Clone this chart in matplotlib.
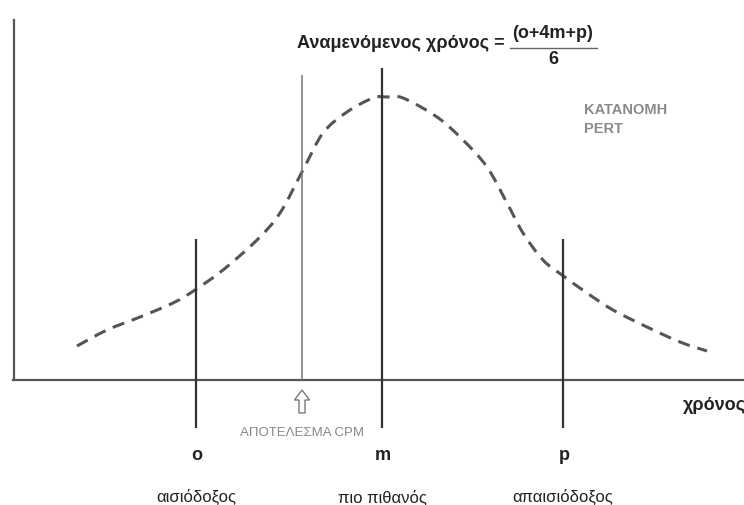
import matplotlib
matplotlib.use("Agg")
import matplotlib.pyplot as plt
from matplotlib.patches import FancyArrow, PathPatch
from matplotlib.path import Path

# PERT curve (time, density)
curve_time = [77, 107, 140, 173, 195, 223, 257, 280, 303, 323, 347, 373, 387,
              403, 437, 463, 487, 507, 523, 543, 562, 587, 613, 647, 680, 707]
curve_density = [34, 50, 63, 77, 90, 110, 140, 167, 210, 247, 268, 282, 283,
                 282, 263, 240, 213, 177, 147, 120, 105, 87, 70, 53, 38, 29]

estimate_names = ["o", "m", "p"]
estimate_times = [196, 382, 563]
estimate_tops = [141, 312, 141]
estimate_labels = ["αισιόδοξος", "πιο πιθανός", "απαισιόδοξος"]

cpm_time = 302
cpm_top = 305


def smooth_path(xs, ys):
    # Catmull-Rom through the read points, drawn as cubic Bezier segments
    pts = list(zip(xs, ys))
    verts = [pts[0]]
    codes = [Path.MOVETO]
    for i in range(len(pts) - 1):
        p0 = pts[i - 1] if i > 0 else pts[i]
        p1 = pts[i]
        p2 = pts[i + 1]
        p3 = pts[i + 2] if i + 2 < len(pts) else pts[i + 1]
        c1 = (p1[0] + (p2[0] - p0[0]) / 6, p1[1] + (p2[1] - p0[1]) / 6)
        c2 = (p2[0] - (p3[0] - p1[0]) / 6, p2[1] - (p3[1] - p1[1]) / 6)
        verts += [c1, c2, p2]
        codes += [Path.CURVE4] * 3
    return Path(verts, codes)


plt.rcParams["font.family"] = ["Liberation Sans", "DejaVu Sans"]

fig = plt.figure(figsize=(7.44, 5.05), dpi=100)
ax = fig.add_axes([0, 0, 1, 1])
ax.set_xlim(0, 744)
ax.set_ylim(-125, 380)
ax.axis("off")

# axes of the sketch
ax.axhline(0, xmin=13 / 744, xmax=1, color="#555555", lw=1.6)
ax.axvline(14, ymin=125 / 505, ymax=485 / 505, color="#555555", lw=1.6)

# distribution
ax.add_patch(PathPatch(smooth_path(curve_time, curve_density), fill=False,
                       edgecolor="#555555", lw=2.2, linestyle=(0, (4, 2.6)),
                       capstyle="butt"))

# o, m, p markers
ax.vlines(estimate_times, -48, estimate_tops, color="#333333", lw=1.6)
for t, name, lab in zip(estimate_times, estimate_names, estimate_labels):
    ax.text(t + 1, -75, name, ha="center", va="center", fontsize=13,
            fontweight="bold", color="#222222")
    ax.text(t, -117, lab, ha="center", va="center", fontsize=12, color="#222222")

# CPM result
ax.vlines([cpm_time], 0, cpm_top, color="#777777", lw=1.1)
ax.add_patch(FancyArrow(cpm_time, -33, 0, 23, width=6, head_width=15,
                        head_length=10, length_includes_head=True,
                        facecolor="white", edgecolor="#777777", lw=1))
ax.text(cpm_time, -53, "ΑΠΟΤΕΛΕΣΜΑ CPM", ha="center", va="center",
        fontsize=9.5, color="#888888")

ax.text(683, -25, "χρόνος", ha="left", va="center", fontsize=13,
        fontweight="bold", color="#222222")

# expected time formula
ax.text(505, 337, "Αναμενόμενος χρόνος =", ha="right", va="center",
        fontsize=13, fontweight="bold", color="#222222")
ax.text(553, 347, "(o+4m+p)", ha="center", va="center", fontsize=13,
        fontweight="bold", color="#222222")
ax.text(553, 320, "6", ha="center", va="center", fontsize=13,
        fontweight="bold", color="#222222")
ax.plot([510, 597], [332, 332], color="#666666", lw=1)

ax.text(584, 270, "ΚΑΤΑΝΟΜΗ", ha="left", va="center", fontsize=10.5,
        fontweight="bold", color="#8a8a8a")
ax.text(584, 251, "PERT", ha="left", va="center", fontsize=10.5,
        fontweight="bold", color="#8a8a8a")

fig.savefig("out.png", dpi=100, facecolor="white")
